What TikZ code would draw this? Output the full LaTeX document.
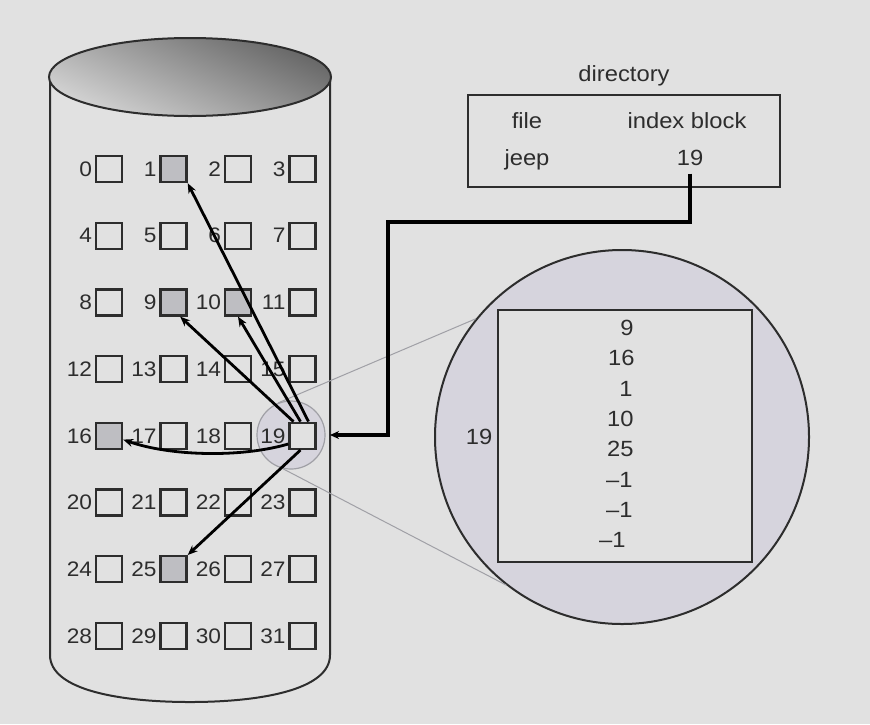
\documentclass[tikz,border=0pt]{standalone}
\usepackage{fontspec}
\setmainfont{Liberation Sans}[FakeStretch=1.08]
\usetikzlibrary{arrows.meta,positioning}
\definecolor{ink}{RGB}{45,45,45}
\definecolor{paper}{RGB}{225,225,225}
\definecolor{lens}{RGB}{214,212,221}
\definecolor{used}{RGB}{190,190,194}
\definecolor{rim}{RGB}{160,160,166}
\tikzset{
  blk/.style={draw=ink,line width=1.2pt,minimum size=13pt,inner sep=0pt,fill=paper},
  lbl/.style={font=\fontsize{10.5}{12}\selectfont,text=ink,inner sep=1.2pt},
  txt/.style={font=\fontsize{11}{13}\selectfont,text=ink,inner sep=2pt},
  arr/.style={-{Stealth[length=5pt,width=4pt]},line width=1.4pt,black},
  link/.style={-{Stealth[length=4.5pt,width=4pt]},line width=1.6pt,black},
  cone/.style={draw=rim,line width=0.5pt},
}

\begin{document}
\begin{tikzpicture}[x=0.5pt,y=-0.5pt]
\fill[paper] (0,0) rectangle (870,724);
\useasboundingbox (0,0) rectangle (870,724);
% disk
\draw[ink,line width=1pt] (50,77) -- (50,655) .. controls (50,690) and (120,702) .. (190,702)
  .. controls (260,702) and (330,690) .. (330,655) -- (330,77);
\path[draw=ink,line width=1pt,top color=black!60,bottom color=black!17,shading angle=-25]
  (190,77) ellipse [x radius=70.5pt,y radius=19.5pt];
% magnifier
\node[circle,draw=rim,line width=0.6pt,fill=lens,minimum size=34pt,inner sep=0pt] (lens) at (291,435) {};
\node[circle,draw=ink,line width=1pt,fill=lens,minimum size=187pt,inner sep=0pt] (zoomc) at (622,437) {};
\draw[cone] (lens.112) -- (zoomc.141);
\draw[cone] (lens.256) -- (zoomc.232);
\node[draw=ink,line width=1pt,fill=paper,minimum width=127pt,minimum height=126pt] (tbl) at (625,436) {};
\foreach \k/\v/\x in {1/9/638,2/16/639,3/1/637,4/10/638,5/25/638,6/{--1}/637,7/{--1}/637,8/{--1}/630}
  \node[txt,anchor=east] (e\k) at (\x,{297.7+30.3*\k}) {\v};
\node[txt] (ilbl) at (479,437) {19};
% blocks
\foreach \i in {0,...,31}{
  \pgfmathtruncatemacro\r{\i/4}
  \pgfmathtruncatemacro\c{\i-4*\r}
  \pgfmathtruncatemacro\u{(\i==1)||(\i==9)||(\i==10)||(\i==16)||(\i==25)}
  \ifnum\u=1 \def\fc{used}\else\def\fc{paper}\fi
  \node[blk,fill=\fc,label={[lbl]left:\i}] (s\i) at ({109+64.5*\c},{169+66.7*\r}) {};
}
\draw[arr] ([xshift=3pt]s19.north) -- (s1.south east);
\draw[arr] ([xshift=-4.5pt]s19.north) -- (s9.-65);
\draw[arr] ([xshift=-1pt]s19.north) -- (s10.south);
\draw[arr] (s19.210) .. controls (240,458) and (170,456) .. (s16.-15);
\draw[arr] ([xshift=-1pt]s19.south) -- (s25.north east);
% directory
\node[draw=ink,line width=1pt,minimum width=156pt,minimum height=46pt,inner sep=0pt] (dirbox) at (624,141) {};
\node[txt,above=2pt of dirbox] (dirt) {directory};
\node[txt,anchor=base] (fh) at (527,128) {file};
\node[txt,anchor=base] (ih) at (687,128) {index block};
\node[txt,anchor=base] (fn) at (527,165) {jeep};
\node[txt,anchor=base] (idx) at (690,165) {19};
\coordinate (wall) at (330,435);
\draw[link] ([yshift=-2pt]idx.south) |- (388,222) |- (wall);
\end{tikzpicture}
\end{document}
